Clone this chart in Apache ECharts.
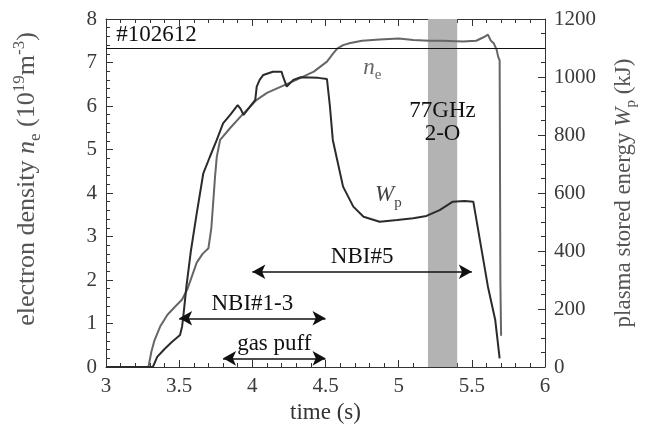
<!DOCTYPE html>
<html>
<head>
<meta charset="utf-8">
<script src="https://cdn.jsdelivr.net/npm/echarts@6/dist/echarts.min.js"></script>
<style>
  html, body { margin: 0; padding: 0; background: #fff; }
  #chart { width: 651px; height: 430px; }
</style>
</head>
<body>
<div id="chart"></div>
<script>
// electron density n_e (1e19 m^-3) vs time (s)
const neData = [
  [3.0, 0], [3.29, 0], [3.31, 0.35], [3.33, 0.6], [3.37, 0.93], [3.42, 1.2],
  [3.47, 1.38], [3.52, 1.55], [3.555, 1.78], [3.62, 2.4], [3.66, 2.6], [3.70, 2.73],
  [3.72, 3.2], [3.735, 3.9], [3.745, 4.37], [3.757, 4.83], [3.78, 5.22], [3.85, 5.5],
  [3.94, 5.83], [4.03, 6.14], [4.1, 6.3], [4.2, 6.45], [4.3, 6.6], [4.42, 6.79],
  [4.51, 7.02], [4.55, 7.2], [4.58, 7.32], [4.62, 7.4], [4.67, 7.45], [4.75, 7.5],
  [4.87, 7.53], [5.0, 7.55], [5.1, 7.52], [5.21, 7.5], [5.3, 7.5], [5.44, 7.48],
  [5.53, 7.5], [5.58, 7.58], [5.61, 7.64], [5.63, 7.5], [5.65, 7.44], [5.67, 7.29],
  [5.68, 7.13], [5.69, 7.05], [5.695, 2.0], [5.70, 0.72]
];

// plasma stored energy W_p (kJ) vs time (s)
const wpData = [
  [3.0, 0], [3.32, 0], [3.35, 35], [3.4, 62], [3.45, 86], [3.506, 110], [3.52, 140],
  [3.528, 173], [3.55, 280], [3.58, 400], [3.62, 530], [3.665, 668], [3.71, 725],
  [3.757, 783], [3.8, 840], [3.85, 870], [3.9, 903], [3.92, 890], [3.94, 869],
  [3.98, 895], [4.02, 921], [4.03, 967], [4.05, 990], [4.075, 1007], [4.14, 1018],
  [4.2, 1018], [4.21, 1001], [4.235, 967], [4.28, 990], [4.33, 999], [4.45, 997],
  [4.51, 993], [4.53, 900], [4.55, 783], [4.58, 714], [4.62, 622], [4.69, 553],
  [4.76, 518], [4.87, 501], [4.99, 507], [5.1, 513], [5.19, 521], [5.28, 541],
  [5.37, 570], [5.45, 572], [5.51, 570], [5.61, 277], [5.66, 162], [5.69, 30]
];

// axis ranges: [min, max, major step, minor splits]
const xTicks = [3, 6, 0.5, 5];
const neTicks = [0, 8, 1, 5];
const wpTicks = [0, 1200, 200, 4];

// heating windows: [label, start, end, y-level on n_e axis]
const arrows = [
  ['NBI#5', 4.0, 5.5, 2.19],
  ['NBI#1-3', 3.5, 4.5, 1.12],
  ['gas puff', 3.8, 4.5, 0.2]
];
const ecrhBand = [5.2, 5.4];
const refLevel = 1100; // kJ
const shotLabel = '#102612';

const FONT = "'Liberation Serif', 'Times New Roman', serif";
const AXC = '#333';
const chart = echarts.init(document.getElementById('chart'));

const lblStyle = { show: true, fontFamily: FONT, fontSize: 21, color: '#3a3a3a', margin: 9, formatter: v => String(v) };

function boxAxis(t, pos, extra) {
  return Object.assign({
    type: 'value', position: pos, min: t[0], max: t[1], interval: t[2],
    axisLine: { show: true, onZero: false, lineStyle: { color: AXC } },
    axisTick: { show: true, inside: true, length: 7, lineStyle: { color: AXC } },
    minorTick: { show: true, splitNumber: t[3], length: 4, lineStyle: { color: AXC } },
    axisLabel: { show: true, color: 'rgba(255,255,255,0)', fontSize: 10 },
    splitLine: { show: false }
  }, extra || {});
}

function rich(big, small, color) {
  return {
    a: { fontFamily: FONT, fontSize: big, color: color, lineHeight: big + 7 },
    i: { fontFamily: FONT, fontSize: big, color: color, fontStyle: 'italic', lineHeight: big + 7 },
    s: { fontFamily: FONT, fontSize: small, color: color, lineHeight: small, verticalAlign: 'bottom' },
    p: { fontFamily: FONT, fontSize: small, color: color, lineHeight: small, verticalAlign: 'top' }
  };
}
const noteRich = {
  t: { fontFamily: FONT, fontSize: 23, color: '#111' },
  ni: { fontFamily: FONT, fontSize: 23, color: '#666', fontStyle: 'italic', lineHeight: 30 },
  ns: { fontFamily: FONT, fontSize: 15, color: '#666', lineHeight: 15, verticalAlign: 'bottom' },
  wi: { fontFamily: FONT, fontSize: 23, color: '#444', fontStyle: 'italic', lineHeight: 30 },
  ws: { fontFamily: FONT, fontSize: 15, color: '#444', lineHeight: 15, verticalAlign: 'bottom' }
};

chart.setOption({
  animation: false,
  grid: { left: 106, right: 106, top: 19, bottom: 63 },
  xAxis: [
    boxAxis(xTicks, 'bottom', {
      axisLabel: lblStyle,
      name: 'time (s)', nameLocation: 'middle', nameGap: 33,
      nameTextStyle: { fontFamily: FONT, fontSize: 23, color: '#333' }
    }),
    boxAxis(xTicks, 'top')
  ],
  yAxis: [
    boxAxis(neTicks, 'left', {
      axisLabel: lblStyle,
      name: '{a|electron density }{i|n}{s|e}{a| (10}{p|19}{a|m}{p|-3}{a|)}',
      nameLocation: 'middle', nameGap: 62,
      nameTextStyle: { rich: rich(26, 17, '#555'), padding: [0, 0, 0, 28] }
    }),
    boxAxis(wpTicks, 'right', {
      axisLabel: lblStyle,
      name: '{a|plasma stored energy }{i|W}{s|p}{a| (kJ)}',
      nameLocation: 'middle', nameGap: 64,
      nameTextStyle: { rich: rich(23, 15, '#555') }
    })
  ],
  series: [{
    name: 'ne', type: 'line', xAxisIndex: 0, yAxisIndex: 0,
    data: neData, showSymbol: false, symbol: 'none',
    lineStyle: { color: '#666', width: 2 },
    markArea: {
      silent: true,
      itemStyle: { color: '#b3b3b3', opacity: 1 },
      data: [[{ xAxis: ecrhBand[0] }, { xAxis: ecrhBand[1] }]]
    },
    markLine: {
      silent: true,
      symbol: ['arrow', 'arrow'], symbolSize: [11, 13],
      lineStyle: { color: '#111', width: 1.5, type: 'solid' },
      label: {
        show: true, position: 'insideMiddleTop', distance: 3,
        fontFamily: FONT, fontSize: 23, color: '#111',
        formatter: p => p.name
      },
      data: arrows.map(a => [
        { name: a[0], coord: [a[1], a[3]] },
        { coord: [a[2], a[3]] }
      ])
    },
    markPoint: {
      silent: true, symbolSize: 0,
      data: [
        { coord: [3.07, 7.63], label: { show: true, position: 'right', distance: 0, formatter: '{t|' + shotLabel + '}', rich: noteRich } },
        { coord: [4.82, 6.88], label: { show: true, position: 'inside', formatter: '{ni|n}{ns|e}', rich: noteRich } },
        { coord: [5.30, 5.62], label: { show: true, position: 'inside', formatter: '{t|77GHz}\n{t|2-O}', lineHeight: 23, rich: noteRich } },
        { coord: [4.93, 3.95], label: { show: true, position: 'inside', formatter: '{wi|W}{ws|p}', rich: noteRich } }
      ]
    }
  }, {
    name: 'Wp', type: 'line', xAxisIndex: 0, yAxisIndex: 1,
    data: wpData, showSymbol: false, symbol: 'none',
    lineStyle: { color: '#2b2b2b', width: 2 },
    markLine: {
      silent: true, symbol: 'none', label: { show: false },
      lineStyle: { color: '#111', width: 1, type: 'solid' },
      data: [{ yAxis: refLevel }]
    }
  }]
});
</script>
</body>
</html>
